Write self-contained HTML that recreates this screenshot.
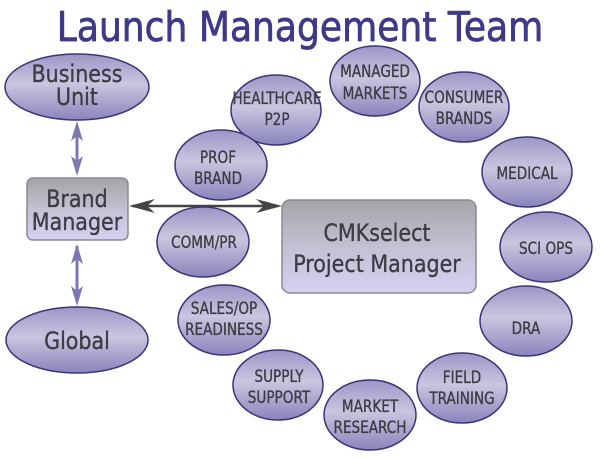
<!DOCTYPE html>
<html><head><meta charset="utf-8"><style>
html,body{margin:0;padding:0;background:#fff;}
svg{display:block;}
text{font-family:"DejaVu Sans","Liberation Sans",sans-serif;fill:#3c3c44;text-anchor:middle;stroke:#3c3c44;stroke-width:0.35;}
</style></head><body>
<svg width="600" height="459" viewBox="0 0 600 459" xmlns="http://www.w3.org/2000/svg">
<defs>
<linearGradient id="eg" x1="0" y1="0" x2="0" y2="1">
<stop offset="0" stop-color="#9c96c6"/><stop offset="0.45" stop-color="#c9c6df"/><stop offset="1" stop-color="#8a84bc"/>
</linearGradient>
<linearGradient id="bg" x1="0" y1="0" x2="0" y2="1">
<stop offset="0" stop-color="#a4a4a8"/><stop offset="0.5" stop-color="#c3c1d2"/><stop offset="1" stop-color="#d6d0f2"/>
</linearGradient>
</defs>
<text transform="translate(300,41) scale(0.88,1)" x="0" y="0" style="font-size:41px;fill:#3f3a88;stroke:#3f3a88;stroke-width:0.8">Launch Management Team</text>

<g fill="#7d78b2" stroke="#7d78b2" stroke-width="3">
<line x1="77" y1="125" x2="77" y2="172"/>
<line x1="77" y1="246" x2="77" y2="302"/>
</g>
<g fill="#7d78b2">
<polygon points="77,121 71,141 77,136 83,141"/>
<polygon points="77,176 71,156 77,161 83,156"/>
<polygon points="77,244 71,264 77,259 83,264"/>
<polygon points="77,306 71,286 77,291 83,286"/>
</g>
<line x1="132" y1="206" x2="278" y2="206" stroke="#444" stroke-width="2.5"/>
<polygon points="129,206 155,199 147,206 155,213" fill="#444"/>
<polygon points="282,206 256,199 264,206 256,213" fill="#444"/>

<g stroke="#3a3578" stroke-width="1.5" fill="url(#eg)">
<ellipse cx="77" cy="87" rx="72" ry="33"/>
<ellipse cx="77" cy="340" rx="71" ry="33"/>
<ellipse cx="276" cy="110" rx="45" ry="35"/>
<ellipse cx="375" cy="81" rx="45" ry="35"/>
<ellipse cx="464" cy="107" rx="45" ry="35"/>
<ellipse cx="527" cy="172" rx="45" ry="35"/>
<ellipse cx="546" cy="247" rx="46" ry="35"/>
<ellipse cx="526" cy="321" rx="46" ry="35"/>
<ellipse cx="462" cy="388" rx="45" ry="35"/>
<ellipse cx="370" cy="415" rx="46" ry="35"/>
<ellipse cx="278" cy="385" rx="45" ry="35"/>
<ellipse cx="224" cy="320" rx="46" ry="35"/>
<ellipse cx="203" cy="242" rx="46" ry="35"/>
<ellipse cx="221" cy="165" rx="46" ry="35"/>
</g>
<rect x="27" y="178" width="101" height="62" rx="6" fill="url(#bg)" stroke="#8a8a90" stroke-width="1.5"/>
<rect x="282" y="200" width="194" height="93" rx="8" fill="url(#bg)" stroke="#8a8a90" stroke-width="1.5"/>

<g style="font-size:24px">
<text transform="translate(77,82) scale(0.86,1)">Business</text>
<text transform="translate(77,105) scale(0.86,1)">Unit</text>
<text transform="translate(77,349) scale(0.86,1)">Global</text>
<text transform="translate(77,207) scale(0.86,1)">Brand</text>
<text transform="translate(77,230) scale(0.86,1)">Manager</text>
<text transform="translate(377,241) scale(0.86,1)">CMKselect</text>
<text transform="translate(377,272) scale(0.86,1)">Project Manager</text>
</g>
<g style="font-size:17px">
<text transform="translate(277,104) scale(0.8,1)">HEALTHCARE</text>
<text transform="translate(277,125) scale(0.8,1)">P2P</text>
<text transform="translate(375,77) scale(0.8,1)">MANAGED</text>
<text transform="translate(375,99) scale(0.8,1)">MARKETS</text>
<text transform="translate(464,103) scale(0.8,1)">CONSUMER</text>
<text transform="translate(464,124) scale(0.8,1)">BRANDS</text>
<text transform="translate(527,179) scale(0.8,1)">MEDICAL</text>
<text transform="translate(546,254) scale(0.8,1)">SCI OPS</text>
<text transform="translate(526,334) scale(0.8,1)">DRA</text>
<text transform="translate(462,383) scale(0.8,1)">FIELD</text>
<text transform="translate(462,404) scale(0.8,1)">TRAINING</text>
<text transform="translate(370,412) scale(0.8,1)">MARKET</text>
<text transform="translate(370,433) scale(0.8,1)">RESEARCH</text>
<text transform="translate(279,382) scale(0.8,1)">SUPPLY</text>
<text transform="translate(279,403) scale(0.8,1)">SUPPORT</text>
<text transform="translate(224,314) scale(0.8,1)">SALES/OP</text>
<text transform="translate(224,335) scale(0.8,1)">READINESS</text>
<text transform="translate(204,248) scale(0.8,1)">COMM/PR</text>
<text transform="translate(218,163) scale(0.8,1)">PROF</text>
<text transform="translate(218,184) scale(0.8,1)">BRAND</text>
</g>
</svg>
</body></html>
